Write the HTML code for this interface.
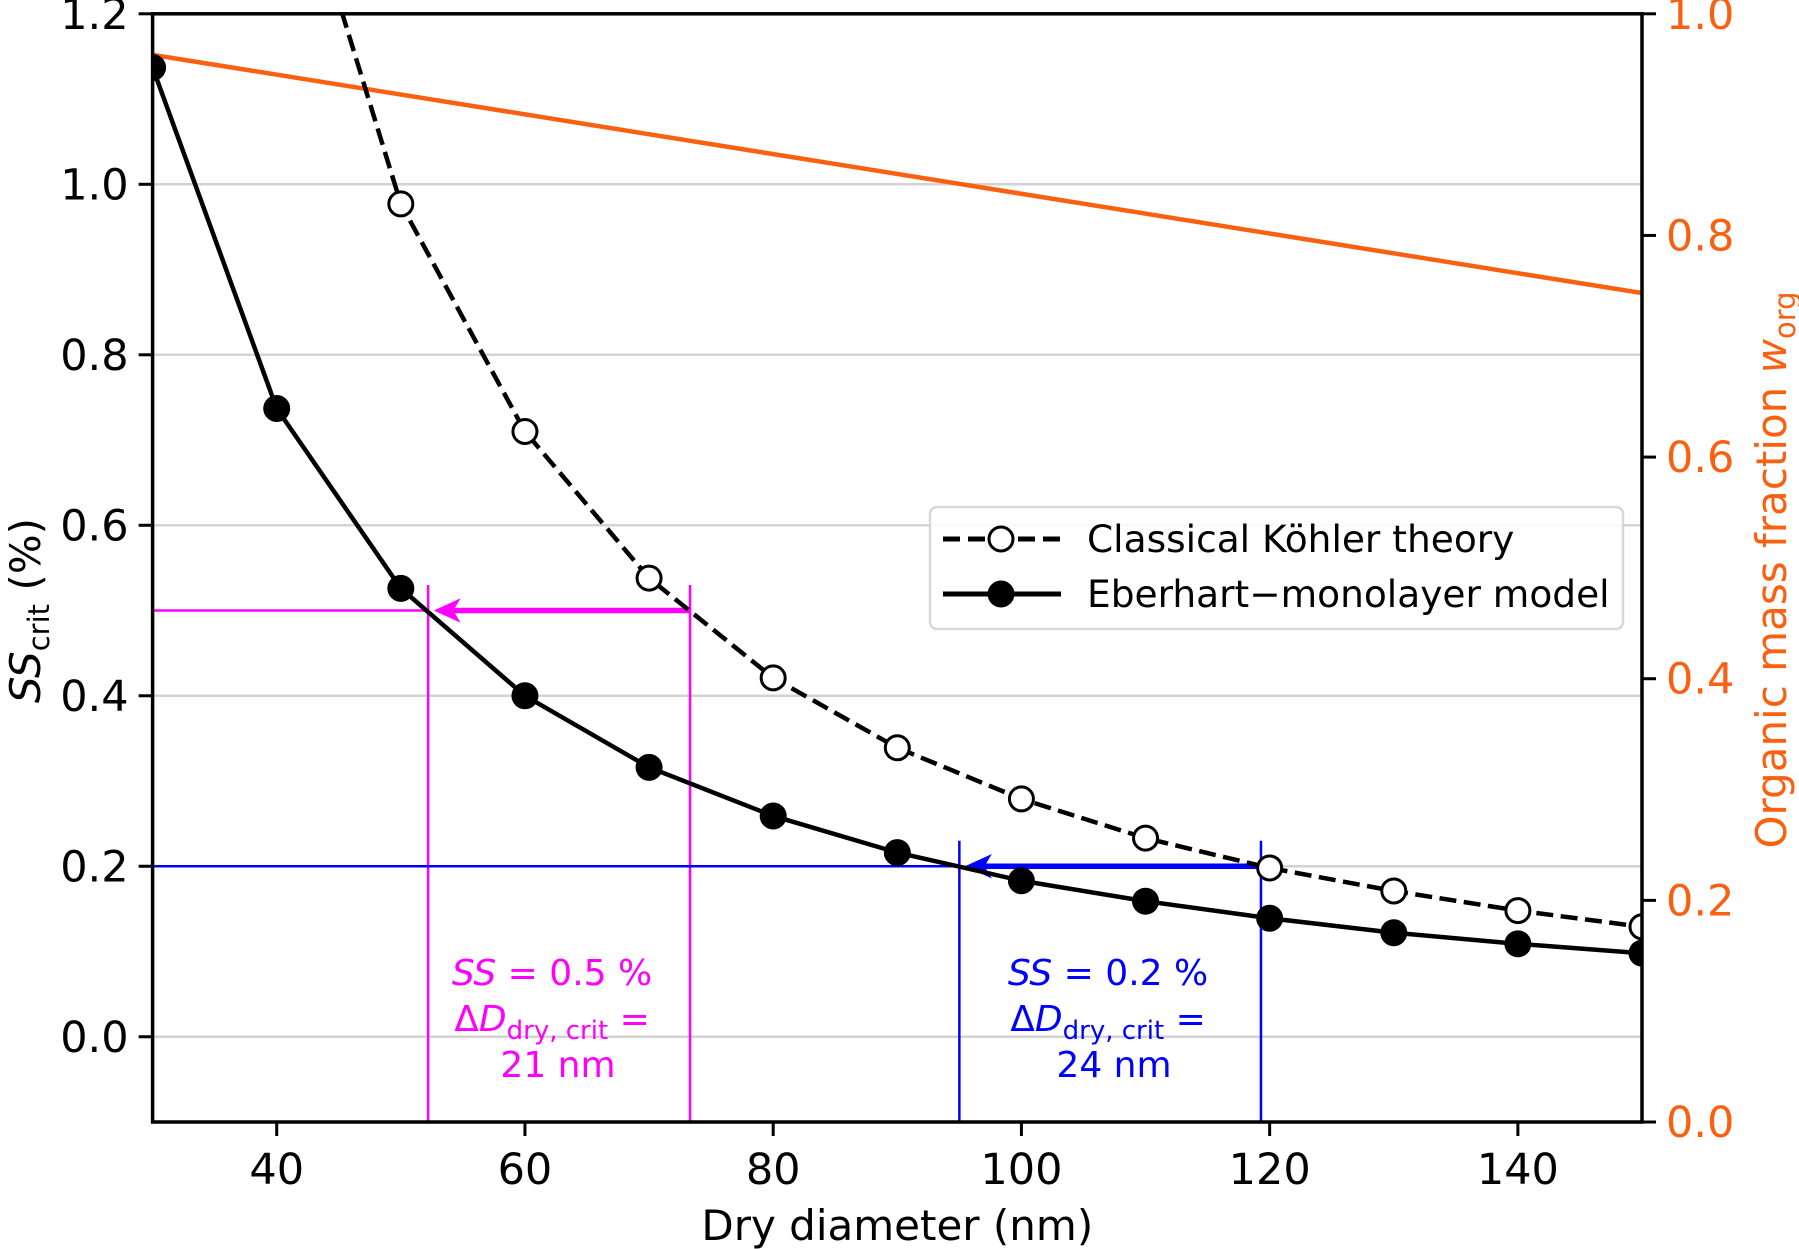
<!DOCTYPE html>
<html><head><meta charset="utf-8"><style>
html,body{margin:0;padding:0;background:#fff;}
svg{display:block;font-family:"DejaVu Sans","Liberation Sans",sans-serif;}
</style></head><body>
<svg id="chart" width="1799" height="1249" viewBox="0 0 1799 1249" xmlns="http://www.w3.org/2000/svg">
<g id="grid"></g>
<g id="series"></g>
<g id="axes"></g>
<g id="annot"></g>
</svg>
<script>
const xTicks = [40, 60, 80, 100, 120, 140];
const yTicks = [0.0, 0.2, 0.4, 0.6, 0.8, 1.0, 1.2];
const y2Ticks = [0.0, 0.2, 0.4, 0.6, 0.8, 1.0];
const kohlerX = [50, 60, 70, 80, 90, 100, 110, 120, 130, 140, 150];
const kohlerY = [0.977, 0.71, 0.538, 0.421, 0.339, 0.279, 0.233, 0.198, 0.171, 0.148, 0.129];
const kohlerLineX = [40, 50];
const kohlerLineY = [1.45, 0.977];
const eberX = [30, 40, 50, 60, 70, 80, 90, 100, 110, 120, 130, 140, 150];
const eberY = [1.137, 0.737, 0.526, 0.4, 0.316, 0.259, 0.216, 0.183, 0.159, 0.139, 0.122, 0.109, 0.098];
const orgX = [30, 150];
const orgY = [0.963, 0.748];
const ss05 = [0.5, 52.2, 73.3];
const ss02 = [0.2, 95.0, 119.3];

const L=152.6,R=1642,T=13.8,B=1122;
const sx=v=>L+(v-30)/120*(R-L);
const sy=v=>B-(v+0.1)/1.3*(B-T);
const sy2=v=>B-v*(B-T);
const NS="http://www.w3.org/2000/svg";
function mk(parent,tag,attrs,txt){const e=document.createElementNS(NS,tag);for(const k in attrs)e.setAttribute(k,attrs[k]);if(txt!==undefined)e.textContent=txt;document.getElementById(parent).appendChild(e);return e;}

const defs=document.createElementNS(NS,'defs');
defs.innerHTML='<clipPath id="cp"><rect x="'+L+'" y="'+T+'" width="'+(R-L)+'" height="'+(B-T)+'"/></clipPath>';
document.getElementById('chart').prepend(defs);
document.getElementById('series').setAttribute('clip-path','url(#cp)');

yTicks.forEach(v=>{
  const g=mk('grid','line',{x1:L,x2:R,y1:sy(v),y2:sy(v),stroke:'#d3d3d3','stroke-width':2.5});
  
  
});

let o=mk('series','polyline',{points:orgX.map((x,i)=>sx(x)+','+sy2(orgY[i])).join(' '),fill:'none',stroke:'#fa6010','stroke-width':4.5});



function annot(vals,color,name){
  const [y,x1,x2]=vals;
  const yy=sy(y), ax=sx(x1);
  let e=mk('series','line',{x1:L,x2:ax,y1:yy,y2:yy,stroke:color,'stroke-width':2.5});
  
  
  e=mk('series','line',{x1:sx(x2),x2:ax+18,y1:yy,y2:yy,stroke:color,'stroke-width':5.5});
  
  
  e=mk('series','polygon',{points:(ax+8)+','+yy+' '+(ax+30)+','+(yy-10)+' '+(ax+24)+','+yy+' '+(ax+30)+','+(yy+10),fill:color,stroke:color,'stroke-width':2});
  
  
  [x1,x2].forEach(x=>{
    e=mk('series','line',{x1:sx(x),x2:sx(x),y1:sy(y+0.03),y2:B,stroke:color,'stroke-width':2.5});
    
    
  });
}
annot(ss05,'#ff00ff','ss05');
annot(ss02,'#0000ff','ss02');

let kp=kohlerLineX.concat(kohlerX.slice(1)).map((x,i)=>sx(x)+','+sy(kohlerLineY.concat(kohlerY.slice(1))[i])).join(' ');
let k=mk('series','polyline',{points:kp,fill:'none',stroke:'#000','stroke-width':4.5,'stroke-dasharray':'17,7.5'});


kohlerX.forEach((x,i)=>{
  const c=mk('series','circle',{cx:sx(x),cy:sy(kohlerY[i]),r:12,fill:'#fff',stroke:'#000','stroke-width':3});
  
  
});
let e2=mk('series','polyline',{points:eberX.map((x,i)=>sx(x)+','+sy(eberY[i])).join(' '),fill:'none',stroke:'#000','stroke-width':4.5});


eberX.forEach((x,i)=>{
  const c=mk('series','circle',{cx:sx(x),cy:sy(eberY[i]),r:13.5,fill:'#000'});
  
  
});

let sp=mk('axes','rect',{x:L,y:T,width:R-L,height:B-T,fill:'none',stroke:'#000','stroke-width':3.5});


xTicks.forEach(v=>{
  let t=mk('axes','line',{x1:sx(v),x2:sx(v),y1:B,y2:B+14,stroke:'#000','stroke-width':3});
  
  
  t=mk('axes','text',{x:sx(v),y:B+62,'text-anchor':'middle','font-size':43},String(v));
  
  
});
yTicks.forEach(v=>{
  let t=mk('axes','line',{x1:L-14,x2:L,y1:sy(v),y2:sy(v),stroke:'#000','stroke-width':3});
  
  
  t=mk('axes','text',{x:L-24,y:sy(v)+15,'text-anchor':'end','font-size':43},v.toFixed(1));
  
  
});
y2Ticks.forEach(v=>{
  let t=mk('axes','line',{x1:R,x2:R+14,y1:sy2(v),y2:sy2(v),stroke:'#000','stroke-width':3});
  
  
  t=mk('axes','text',{x:R+24,y:sy2(v)+15,'text-anchor':'start','font-size':43,fill:'#fa6010'},v.toFixed(1));
  
  
});
let xl=mk('axes','text',{x:(L+R)/2,y:1240,'text-anchor':'middle','font-size':42},'Dry diameter (nm)');


let yl=mk('axes','text',{transform:'translate(40,'+sy(0.5)+') rotate(-90)','text-anchor':'middle','font-size':42});
yl.innerHTML='<tspan font-style="italic">SS</tspan><tspan font-size="29" dy="9">crit</tspan><tspan dy="-9"> (%)</tspan>';


let y2l=mk('axes','text',{transform:'translate(1786,570) rotate(-90)','text-anchor':'middle','font-size':42,fill:'#fa6010'});
y2l.innerHTML='Organic mass fraction <tspan font-style="italic">w</tspan><tspan font-size="29" dy="9">org</tspan>';



function note(cx,color,ss,dd,name){
  let t=mk('annot','text',{x:cx,y:985,'text-anchor':'middle','font-size':36,fill:color});
  t.innerHTML='<tspan font-style="italic">SS</tspan> = '+ss+' %';
  
  
  t=mk('annot','text',{x:cx,y:1031,'text-anchor':'middle','font-size':36,fill:color});
  t.innerHTML='Δ<tspan font-style="italic">D</tspan><tspan font-size="26" dy="8">dry, crit</tspan><tspan dy="-8"> =</tspan>';
  
  
  t=mk('annot','text',{x:cx+6,y:1077,'text-anchor':'middle','font-size':36,fill:color},dd+' nm');
  
  
}
note(552,'#ff00ff','0.5','21','ss05');
note(1108,'#0000ff','0.2','24','ss02');

let lb=mk('annot','rect',{x:930,y:507,width:693,height:122,rx:7,fill:'#fff','fill-opacity':0.85,stroke:'#d8d8d8','stroke-width':2.5});


let l1=mk('annot','line',{x1:943,x2:1061,y1:539,y2:539,stroke:'#000','stroke-width':5,'stroke-dasharray':'17,8'});


let c1=mk('annot','circle',{cx:1001,cy:539,r:12,fill:'#fff',stroke:'#000','stroke-width':3});


let t1=mk('annot','text',{x:1087,y:552,'font-size':37.5},'Classical Köhler theory');


let l2=mk('annot','line',{x1:943,x2:1061,y1:594,y2:594,stroke:'#000','stroke-width':5});


let c2=mk('annot','circle',{cx:1001,cy:594,r:13.5,fill:'#000'});


let t2=mk('annot','text',{x:1087,y:607,'font-size':37.5},'Eberhart−monolayer model');


</script>
</body></html>
